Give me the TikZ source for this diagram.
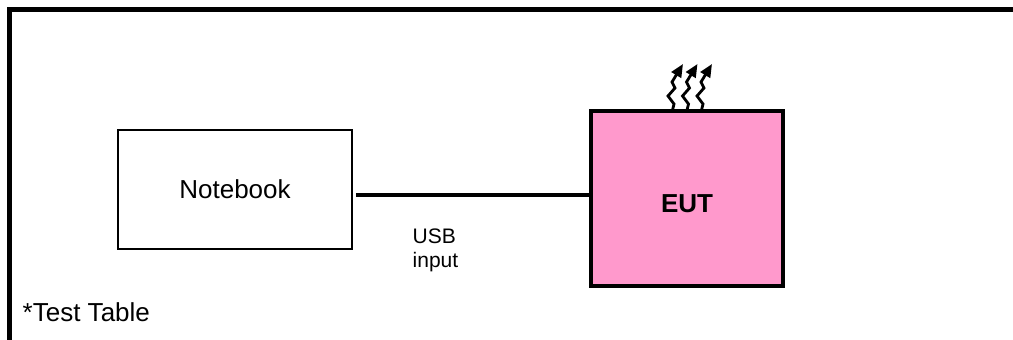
\documentclass[tikz,border=0pt]{standalone}
\usepackage{fontspec}
\setmainfont{Liberation Sans}
\usetikzlibrary{arrows.meta}
\definecolor{eutpink}{HTML}{FF99CC}
\begin{document}
\begin{tikzpicture}[x=1pt, y=-1pt,
        box/.style={draw, line width=2pt, minimum width=233.4pt, minimum height=119pt, inner sep=0pt, font=\fontsize{26}{31}\selectfont},
        eutbox/.style={draw, line width=4pt, fill=eutpink, minimum width=192pt, minimum height=175pt, inner sep=0pt},
        link/.style={line width=3.3pt},
        heat/.style={line width=2.8pt, -{Triangle[length=13pt, width=11pt]}}]
        \useasboundingbox (0,0) rectangle (1013,340);
        \draw[line width=4.4pt] (1013,9.5) -- (9.5,9.5) -- (9.5,340);

        \node[box] (nb) at (235,189.5) {Notebook};
        \node[eutbox] (eut) at (687,198.5) {};
        \node[font=\bfseries\fontsize{26}{31}\selectfont] (eutname) at ([yshift=-5.5pt]eut.center) {EUT};
        \draw[link] ([shift={(3.5,5.5)}]nb.east) -- ([yshift=3.5pt]eut.west);
        \node[font=\fontsize{21}{23.7}\selectfont, align=left, anchor=west, inner sep=0pt] (usb) at (412.5,250) {USB\\input};

        \foreach \dx in {-15,-0.5,14}
            \draw[heat] ([xshift=\dx pt, yshift=-3pt]eut.north) -- ++(2,-8) -- ++(-6,-8) -- ++(7,-8) -- ++(-3,-6) -- ++(11,-18);

        \node[font=\fontsize{26}{31}\selectfont, anchor=base west, inner sep=0pt] (tbl) at (22.5,321) {*Test Table};
    \end{tikzpicture}
\end{document}
